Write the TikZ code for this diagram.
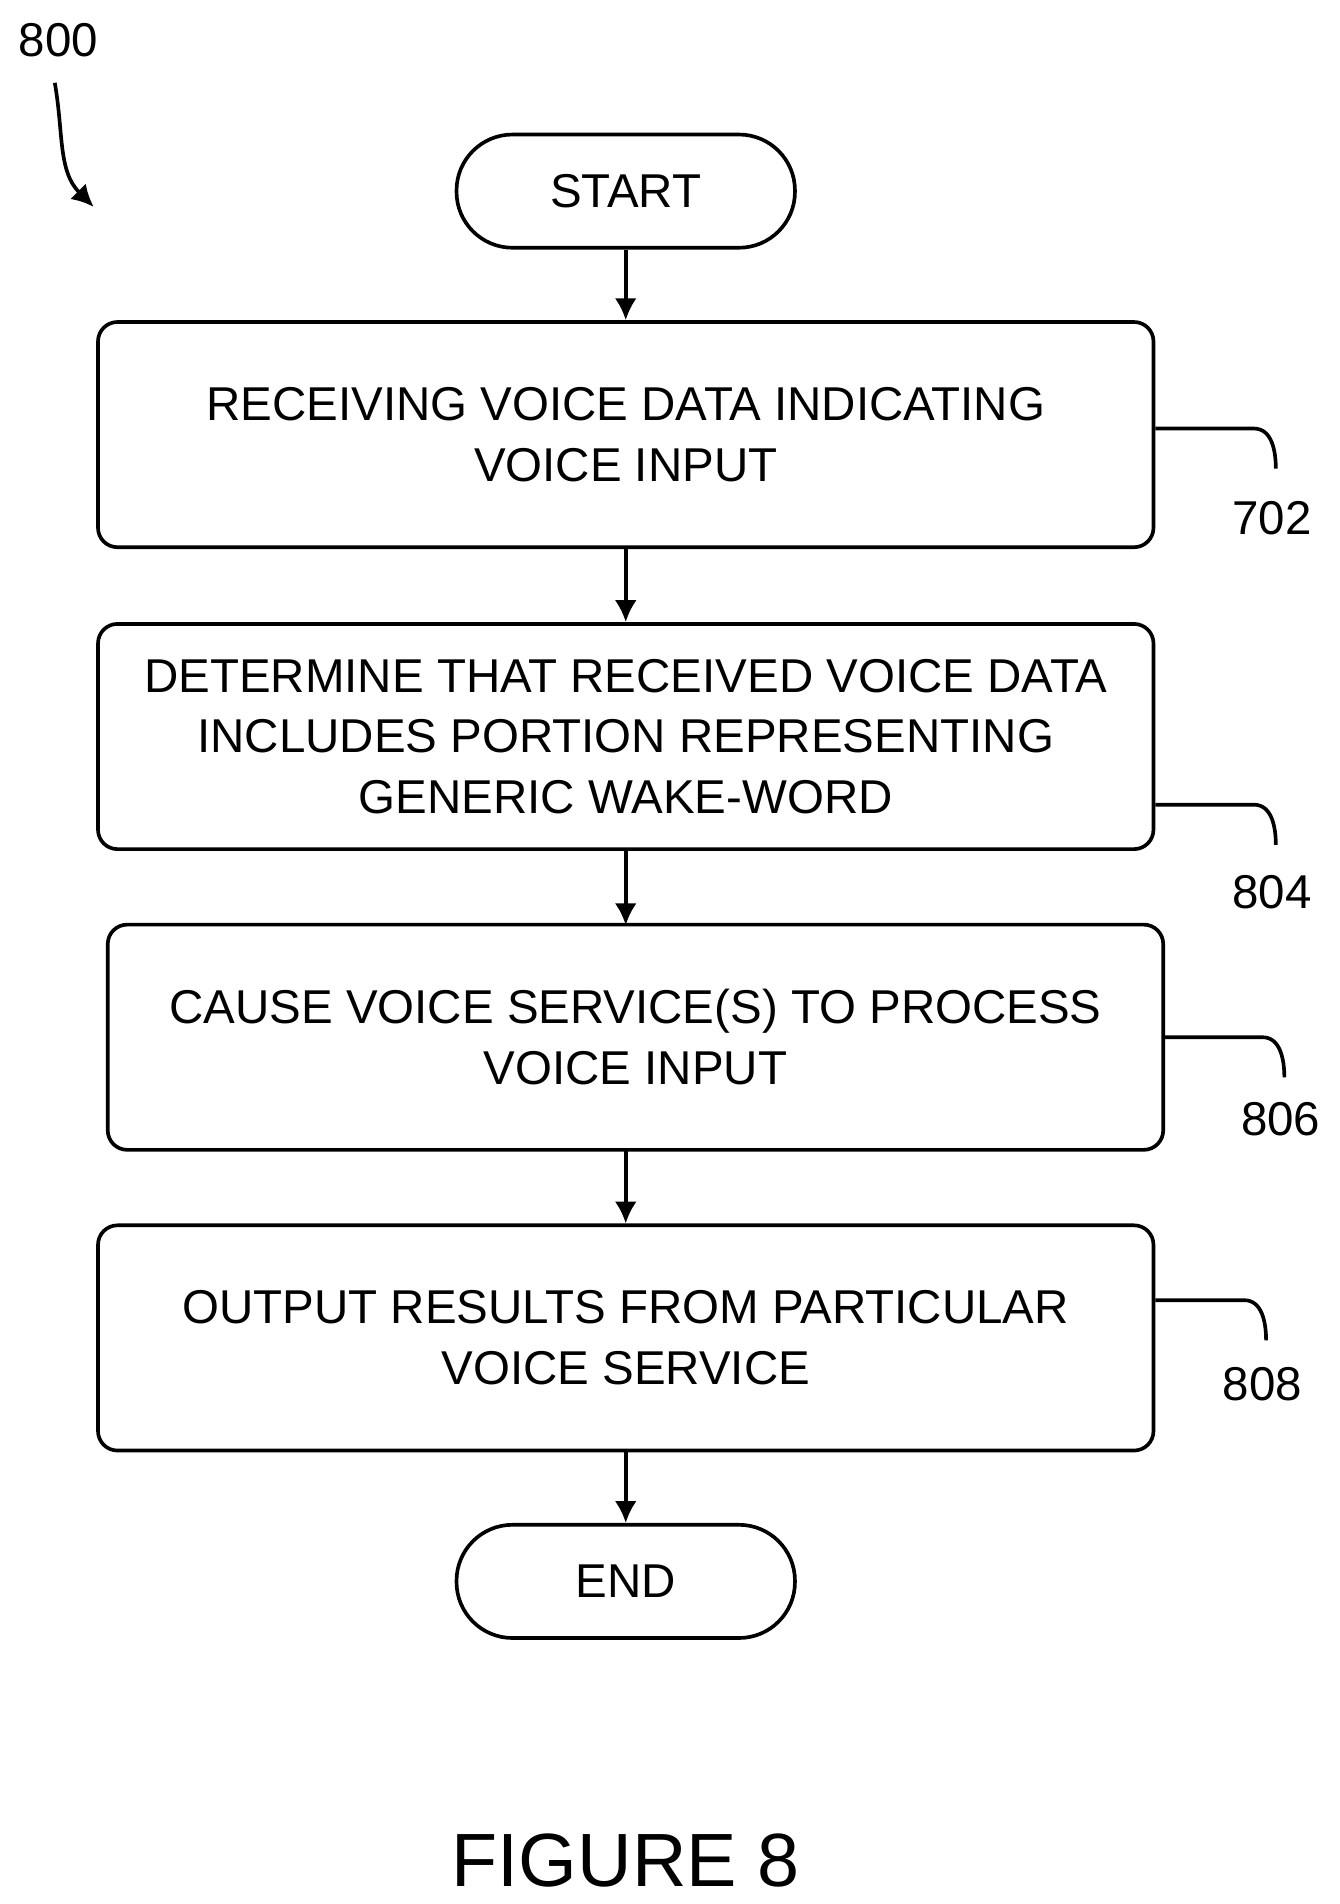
\documentclass[tikz,border=0pt]{standalone}
\usepackage{fontspec}
\usetikzlibrary{arrows.meta}
\setmainfont{Liberation Sans}
\begin{document}
\begin{tikzpicture}[x=0.5pt,y=-0.5pt,
  box/.style={draw,line width=1.5pt,rounded corners=8pt,minimum width=433.5pt,minimum height=92.5pt,align=center,font=\fontsize{19.5}{25}\selectfont},
  term/.style={draw,line width=1.5pt,rounded corners=23pt,minimum width=139pt,minimum height=46.5pt,font=\fontsize{19.5}{25}\selectfont},
  arr/.style={line width=1.5pt,-{Latex[length=9pt,width=9pt]}},
  lead/.style={line width=1.5pt},
  lab/.style={font=\fontsize{19.5}{24}\selectfont}]
\useasboundingbox (0,0) rectangle (1100,1564);
\node[term] (s) at (514,157) {START};
\node[box] (b1) at (514,357) {RECEIVING VOICE DATA INDICATING\\VOICE INPUT};
\node[box] (b2) at (514,605) {DETERMINE THAT RECEIVED VOICE DATA\\INCLUDES PORTION REPRESENTING\\GENERIC WAKE-WORD};
\node[box] (b3) at (522,852) {CAUSE VOICE SERVICE(S) TO PROCESS\\VOICE INPUT};
\node[box] (b4) at (514,1099) {OUTPUT RESULTS FROM PARTICULAR\\VOICE SERVICE};
\node[term] (e) at (514,1299) {END};
\draw[arr] (s) -- (b1);
\draw[arr] (b1) -- (b2);
\draw[arr] (b2.south) -- (514,760);
\draw[arr] (514,945) -- (b4.north);
\draw[arr] (b4) -- (e);
\node[lab] (l1) at (1045,426) {702};
\node[lab] (l2) at (1045,733) {804};
\node[lab] (l3) at (1052,919) {806};
\node[lab] (l4) at (1037,1137) {808};
\draw[lead] (b1.east|-0,352) -- (1030,352) to[out=0,in=90] (1048,385);
\draw[lead] (b2.east|-0,661) -- (1030,661) to[out=0,in=90] (1048,694);
\draw[lead] (b3.east|-0,852) -- (1037,852) to[out=0,in=90] (1055,885);
\draw[lead] (b4.east|-0,1068) -- (1022,1068) to[out=0,in=90] (1040,1101);
\node[lab] (n) at (48,33) {800};
\draw[arr] (45,68) to[out=-80,in=135] (77,170);
\node[font=\fontsize{31}{36}\selectfont] (f) at (514,1528) {FIGURE 8};
\end{tikzpicture}
\end{document}
